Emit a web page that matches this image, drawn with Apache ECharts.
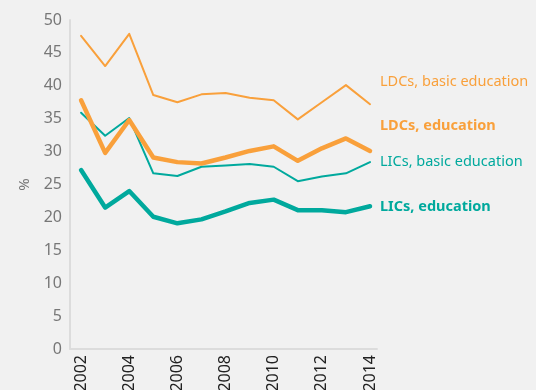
<!DOCTYPE html>
<html>
<head>
<meta charset="utf-8">
<script src="https://cdn.jsdelivr.net/npm/echarts@6/dist/echarts.min.js"></script>
<style>
  html, body { margin: 0; padding: 0; background: #f1f1f1; }
  #chart { width: 536px; height: 390px; }
</style>
</head>
<body>
<div id="chart"></div>
<script>
// Aid to education as a share of total aid, 2002–2014 (%)
const years = [2002, 2003, 2004, 2005, 2006, 2007, 2008, 2009, 2010, 2011, 2012, 2013, 2014];
const yearTicks = [2002, 2004, 2006, 2008, 2010, 2012, 2014];
const ldcBasic = [47.6, 43.0, 47.9, 38.6, 37.5, 38.7, 38.9, 38.2, 37.8, 34.9, 37.5, 40.1, 37.2];
const ldcEdu   = [37.8, 29.8, 34.8, 29.1, 28.4, 28.2, 29.1, 30.1, 30.8, 28.6, 30.5, 32.0, 30.1];
const licBasic = [35.9, 32.4, 35.1, 26.7, 26.3, 27.7, 27.9, 28.1, 27.7, 25.5, 26.2, 26.7, 28.4];
const licEdu   = [27.2, 21.5, 24.0, 20.1, 19.1, 19.7, 20.9, 22.2, 22.7, 21.1, 21.1, 20.8, 21.7];
const yTicks = [0, 5, 10, 15, 20, 25, 30, 35, 40, 45, 50];

const ORANGE = '#f9a03b';
const TEAL = '#00a99d';
const FONT = '"Noto Sans", sans-serif';

function pairs(vals) { return years.map((y, i) => [y, vals[i]]); }

function line(name, vals, color, width, bold, offsetY) {
  return {
    name, type: 'line', data: pairs(vals), symbol: 'none',
    lineStyle: { color, width, cap: 'round', join: 'round' },
    endLabel: {
      show: true, formatter: name, color, distance: 10,
      offset: [0, offsetY],
      fontFamily: FONT, fontSize: 14.5, fontWeight: bold ? 'bold' : 'normal'
    },
    z: bold ? 3 : 2
  };
}

const chart = echarts.init(document.getElementById('chart'));
chart.setOption({
  backgroundColor: '#f1f1f1',
  animation: false,
  grid: { left: 70, right: 159, top: 20, bottom: 41, containLabel: false, outerBoundsMode: 'none' },
  xAxis: {
    type: 'value', min: 2001.54, max: 2014.29,
    splitLine: { show: false },
    axisLine: { lineStyle: { color: '#dcdcdc', width: 2 } },
    axisTick: { show: false },
    axisLabel: {
      customValues: yearTicks, rotate: 90, color: '#222',
      fontFamily: FONT, fontSize: 16, margin: 6,
      formatter: v => String(v)
    }
  },
  yAxis: {
    type: 'value', min: 0, max: 50, interval: 5,
    name: '%', nameLocation: 'middle', nameGap: 38, nameRotate: 90,
    nameTextStyle: { color: '#777', fontFamily: FONT, fontSize: 15 },
    splitLine: { show: false },
    axisLine: { show: true, lineStyle: { color: '#dcdcdc', width: 2 } },
    axisTick: { show: false },
    axisLabel: { color: '#777', fontFamily: FONT, fontSize: 16, margin: 8 }
  },
  series: [
    line('LDCs, basic education', ldcBasic, ORANGE, 2, false, -22),
    line('LDCs, education', ldcEdu, ORANGE, 4.5, true, -25),
    line('LICs, basic education', licBasic, TEAL, 2, false, 0),
    line('LICs, education', licEdu, TEAL, 4.5, true, 1)
  ]
});
</script>
</body>
</html>
